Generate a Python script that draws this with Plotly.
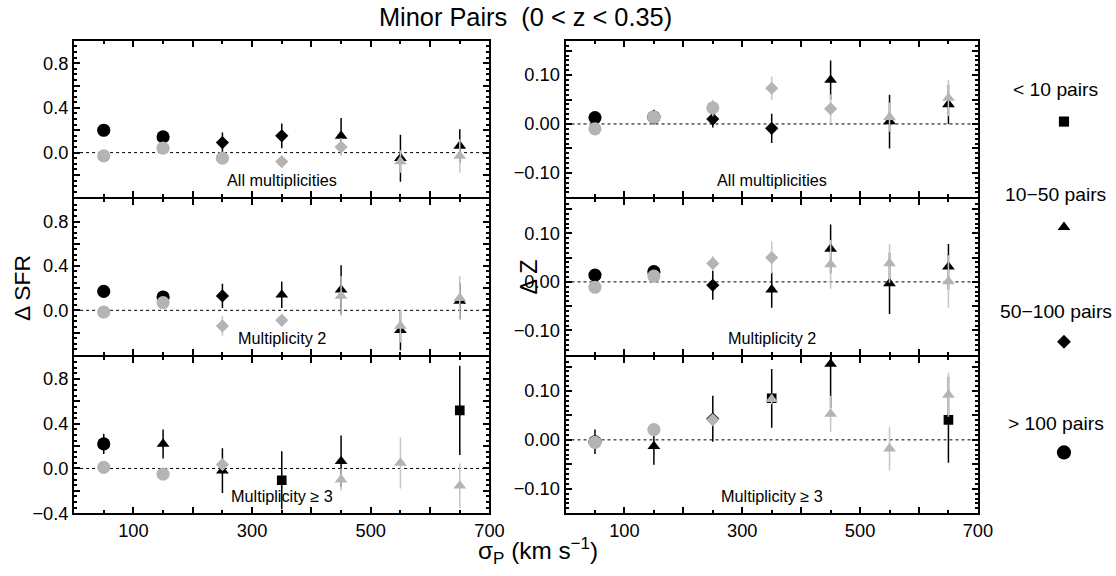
import plotly.graph_objects as go

# ---------------- data ----------------
sigma_p = [50, 150, 250, 350, 450, 550, 650]

# symbols: C = >100 pairs, D = 50-100 pairs, T = 10-50 pairs, S = <10 pairs
sfr_all_black = [0.20, 0.14, 0.09, 0.15, 0.15, -0.05, 0.06]
sfr_all_black_err = [0.02, 0.02, 0.09, 0.11, 0.16, 0.21, 0.15]
sfr_all_black_sym = ["C", "C", "D", "D", "T", "T", "T"]
sfr_all_gray = [-0.03, 0.04, -0.05, -0.08, 0.05, -0.08, -0.03]
sfr_all_gray_err = [0.01, 0.02, 0.03, 0.04, 0.08, 0.10, 0.15]
sfr_all_gray_sym = ["C", "C", "C", "D", "D", "T", "T"]

sfr_m2_black = [0.17, 0.12, 0.13, 0.14, 0.185, -0.18, 0.085]
sfr_m2_black_err = [0.02, 0.03, 0.11, 0.12, 0.22, 0.18, 0.16]
sfr_m2_black_sym = ["C", "C", "D", "T", "T", "T", "T"]
sfr_m2_gray = [-0.015, 0.07, -0.14, -0.09, 0.13, -0.14, 0.11]
sfr_m2_gray_err = [0.01, 0.03, 0.09, 0.05, 0.18, 0.15, 0.20]
sfr_m2_gray_sym = ["C", "C", "D", "D", "T", "T", "T"]

sfr_m3_black = [0.22, 0.22, -0.02, -0.105, 0.065, None, 0.52]
sfr_m3_black_err = [0.09, 0.13, 0.20, 0.26, 0.23, 0, 0.40]
sfr_m3_black_sym = ["C", "T", "T", "S", "T", "T", "S"]
sfr_m3_gray = [0.01, -0.05, 0.035, None, -0.10, 0.05, -0.155]
sfr_m3_gray_err = [0.02, 0.03, 0.04, 0, 0.10, 0.23, 0.20]
sfr_m3_gray_sym = ["C", "C", "D", "S", "T", "T", "T"]

z_all_black = [0.013, 0.014, 0.010, -0.009, 0.090, 0.005, 0.040]
z_all_black_err = [0.004, 0.015, 0.017, 0.030, 0.040, 0.055, 0.040]
z_all_black_sym = ["C", "C", "D", "D", "T", "T", "T"]
z_all_gray = [-0.010, 0.014, 0.033, 0.073, 0.031, 0.014, 0.053]
z_all_gray_err = [0.003, 0.008, 0.017, 0.024, 0.030, 0.030, 0.037]
z_all_gray_sym = ["C", "C", "C", "D", "D", "T", "T"]

z_m2_black = [0.014, 0.021, -0.007, -0.016, 0.068, -0.003, 0.031]
z_m2_black_err = [0.004, 0.010, 0.030, 0.037, 0.050, 0.063, 0.047]
z_m2_black_sym = ["C", "C", "D", "T", "T", "T", "T"]
z_m2_gray = [-0.011, 0.012, 0.038, 0.050, 0.036, 0.038, 0.001]
z_m2_gray_err = [0.003, 0.010, 0.015, 0.033, 0.050, 0.040, 0.054]
z_m2_gray_sym = ["C", "C", "D", "D", "T", "T", "T"]

z_m3_black = [-0.004, -0.013, 0.043, 0.085, 0.155, None, 0.041]
z_m3_black_err = [0.025, 0.038, 0.047, 0.060, 0.090, 0, 0.088]
z_m3_black_sym = ["C", "T", "D", "S", "T", "T", "S"]
z_m3_gray = [-0.005, 0.021, 0.041, 0.083, 0.053, -0.018, 0.092]
z_m3_gray_err = [0.010, 0.012, 0.010, 0.010, 0.037, 0.045, 0.045]
z_m3_gray_sym = ["C", "C", "D", "T", "T", "T", "T"]

panel_labels = ["All multiplicities", "Multiplicity 2", "Multiplicity \u2265 3"]
legend_labels = ["< 10 pairs", "10\u221250 pairs", "50\u2212100 pairs", "> 100 pairs"]
legend_syms = ["S", "T", "D", "C"]

# hidden (unlabelled) major tick labels
x_hidden = ["0", "200", "400", "600"]
sfr_hidden = ["\u22120.2", "-0.2", "0.2", "0.6", "1.0"]
z_hidden = ["\u22120.15", "-0.15", "\u22120.05", "-0.05", "0.05", "0.15"]

# ---------------- style ----------------
BLACK = "#000000"
GRAY = "#b4b4b4"
GRAY_ERR = "#c6c6c6"
FONT = "Liberation Sans, Arial, sans-serif"
SYM = {"C": "circle", "D": "diamond", "T": "triangle-up", "S": "square"}
SIZE = {"C": 13, "D": 10, "T": 11, "S": 9.5}

W, H = 1116, 576
# effective drawing frame observed in the rendered picture
FW, FH = 1100.0, 568.0
FS = W / FW


def px(x):
    return x / FW


def py(y):
    return 1 - y / FH


xdom = [[px(74), px(489)], [px(565), px(977)]]
ypix = [(41, 198), (200, 356), (358, 515)]
ydom = [[py(b), py(t)] for (t, b) in ypix]

panels = [
    (0, 0, sfr_all_black, sfr_all_black_err, sfr_all_black_sym, sfr_all_gray, sfr_all_gray_err, sfr_all_gray_sym),
    (1, 0, sfr_m2_black, sfr_m2_black_err, sfr_m2_black_sym, sfr_m2_gray, sfr_m2_gray_err, sfr_m2_gray_sym),
    (2, 0, sfr_m3_black, sfr_m3_black_err, sfr_m3_black_sym, sfr_m3_gray, sfr_m3_gray_err, sfr_m3_gray_sym),
    (0, 1, z_all_black, z_all_black_err, z_all_black_sym, z_all_gray, z_all_gray_err, z_all_gray_sym),
    (1, 1, z_m2_black, z_m2_black_err, z_m2_black_sym, z_m2_gray, z_m2_gray_err, z_m2_gray_sym),
    (2, 1, z_m3_black, z_m3_black_err, z_m3_black_sym, z_m3_gray, z_m3_gray_err, z_m3_gray_sym),
]

fig = go.Figure()
shapes, annotations = [], []
axes = {}

for i, (r, c, yb, eb, sb, yg, eg, sg) in enumerate(panels, start=1):
    xa = "x" if i == 1 else f"x{i}"
    ya = "y" if i == 1 else f"y{i}"
    for yv, ev, sv, col, ecol in [(yb, eb, sb, BLACK, BLACK), (yg, eg, sg, GRAY, GRAY_ERR)]:
        fig.add_trace(go.Scatter(
            x=sigma_p, y=yv, mode="markers", xaxis=xa, yaxis=ya,
            marker=dict(symbol=[SYM[s] for s in sv], size=[SIZE[s] * FS for s in sv],
                        color=col, opacity=1, line=dict(width=0)),
            error_y=dict(type="data", array=ev, color=ecol, thickness=1.5, width=0, visible=True),
            hoverinfo="skip",
        ))
    is_sfr = c == 0
    bottom = r == 2
    common = dict(showline=True, linewidth=2, linecolor="black", mirror="allticks",
                  ticks="inside", tickcolor="black", ticklen=6, tickwidth=1.5,
                  showgrid=False, zeroline=False,
                  tickfont=dict(family=FONT, size=18 * FS, color="black"))
    axes["xaxis" if i == 1 else f"xaxis{i}"] = dict(
        domain=xdom[c], anchor=ya, range=[0, 700],
        tickmode="linear", tick0=0, dtick=100,
        showticklabels=bottom,
        labelalias={k: "" for k in x_hidden},
        minor=dict(ticks="inside", ticklen=3, tickcolor="black", dtick=50, tick0=0),
        **common)
    if is_sfr:
        alias = {k: "" for k in sfr_hidden}
        if not bottom:
            alias["\u22120.4"] = ""
            alias["-0.4"] = ""
        ydict = dict(range=[-0.4, 1.0], tick0=0, dtick=0.2, tickformat=".1f",
                     labelalias=alias,
                     minor=dict(ticks="inside", ticklen=3, tickcolor="black", dtick=0.05, tick0=0))
    else:
        ydict = dict(range=[-0.15, 0.17], tick0=0, dtick=0.05, tickformat=".2f",
                     labelalias={k: "" for k in z_hidden},
                     minor=dict(ticks="inside", ticklen=3, tickcolor="black", dtick=0.01, tick0=0))
    axes["yaxis" if i == 1 else f"yaxis{i}"] = dict(
        domain=ydom[r], anchor=xa, tickmode="linear", **ydict, **common)
    shapes.append(dict(
        type="line", xref=f"{xa} domain", yref=ya, x0=0, x1=1, y0=0, y1=0,
        line=dict(color="black", width=1, dash="3px,3px"), layer="below"))
    annotations.append(dict(
        text=panel_labels[r], xref=f"{xa} domain", yref=f"{ya} domain",
        x=0.5, y=0, yshift=17, xanchor="center", yanchor="middle", showarrow=False,
        font=dict(family=FONT, size=16 * FS, color="black")))

annotations += [
    dict(text="Minor Pairs  (0 < z < 0.35)", xref="paper", yref="paper",
         x=px(525), y=py(17), xanchor="center", yanchor="middle", showarrow=False,
         font=dict(family=FONT, size=25 * FS, color="black")),
    dict(text="\u03c3<sub>P</sub> (km s<sup>\u22121</sup>)", xref="paper", yref="paper",
         x=px(538), y=py(553), xanchor="center", yanchor="middle", showarrow=False,
         font=dict(family=FONT, size=24 * FS, color="black")),
    dict(text="\u0394 SFR", xref="paper", yref="paper", textangle=-90,
         x=px(22), y=py(289), xanchor="center", yanchor="middle", showarrow=False,
         font=dict(family=FONT, size=22.5 * FS, color="black")),
    dict(text="\u0394 Z", xref="paper", yref="paper", textangle=-90,
         x=px(529), y=py(278), xanchor="center", yanchor="middle", showarrow=False,
         font=dict(family=FONT, size=23 * FS, color="black")),
]

key_text_y = [90, 195, 313, 425]
key_mark_y = [122, 228, 343, 454]
for lab, ty in zip(legend_labels, key_text_y):
    annotations.append(dict(
        text=lab, xref="paper", yref="paper", x=px(1055), y=py(ty),
        xanchor="center", yanchor="middle", showarrow=False,
        font=dict(family=FONT, size=19 * FS, color="black")))

fig.add_trace(go.Scatter(
    x=[1063] * 4, y=key_mark_y, mode="markers", xaxis="x7", yaxis="y7",
    marker=dict(symbol=[SYM[s] for s in legend_syms],
                size=[10 * FS, 11 * FS, 10.5 * FS, 14 * FS], color="black", opacity=1,
                line=dict(width=0)),
    hoverinfo="skip", cliponaxis=False))
axes["xaxis7"] = dict(domain=[0, 1], range=[0, FW], visible=False, fixedrange=True, anchor="y7")
axes["yaxis7"] = dict(domain=[0, 1], range=[FH, 0], visible=False, fixedrange=True, anchor="x7")

fig.update_layout(
    width=W, height=H,
    margin=dict(l=0, r=0, t=0, b=0, pad=0),
    paper_bgcolor="white", plot_bgcolor="rgba(0,0,0,0)",
    showlegend=False,
    font=dict(family=FONT, color="black", size=16),
    shapes=shapes, annotations=annotations,
    **axes,
)
fig.write_html("out.html")
